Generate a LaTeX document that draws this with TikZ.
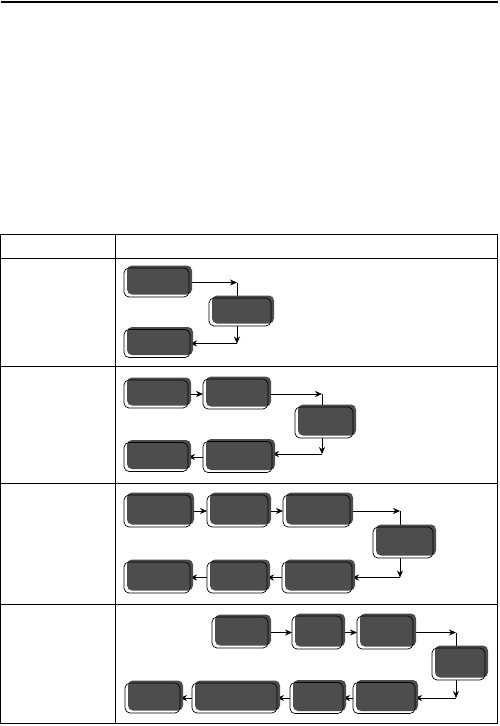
\documentclass[tikz,border=0pt]{standalone}
\usetikzlibrary{shadows,arrows.meta}
\definecolor{boxgray}{RGB}{77,77,77}
\pgfdeclarelayer{bg}
\pgfsetlayers{bg,main}
\begin{document}
\begin{tikzpicture}[x=1pt,y=-1pt,
  box/.style={draw=black, line width=0.7pt, rounded corners=5pt, inner sep=0pt, outer sep=0pt,
    general shadow={fill=white},
    general shadow={fill=boxgray, shadow xshift=3pt, shadow yshift=2.5pt}},
  arr/.style={line width=0.6pt, -{Stealth[length=7pt,width=6pt]}},
  rule/.style={line width=0.8pt}]
\useasboundingbox (0,0) rectangle (499,726);
% top rule
\draw[line width=2pt] (1,2) -- (498,2);
% table
\draw[rule] (0.5,234) rectangle (497,723);
\draw[rule] (0.5,258) -- (497,258);
\draw[rule] (0.5,366) -- (497,366);
\draw[rule] (0.5,483) -- (497,483);
\draw[rule] (0.5,604) -- (497,604);
\draw[rule] (115,234) -- (115,723);

% row 1
\node[box, minimum width=65, minimum height=29] (A1) at (156.5,282.5) {};
\node[box, minimum width=62, minimum height=28] (B1) at (240,312) {};
\node[box, minimum width=66, minimum height=28] (C1) at (157,343.5) {};
\coordinate (t1) at (237,282.5);
\coordinate (b1) at (237,343.5);
% row 2
\node[box, minimum width=64, minimum height=28] (A2) at (156,394) {};
\node[box, minimum width=65, minimum height=30] (B2) at (235.5,394) {};
\node[box, minimum width=58, minimum height=31] (C2) at (324,422.5) {};
\node[box, minimum width=69, minimum height=31] (D2) at (237.5,457) {};
\node[box, minimum width=64, minimum height=29] (E2) at (156,457) {};
\coordinate (t2) at (322,394);
\coordinate (b2) at (322,454);
% row 3
\node[box, minimum width=67, minimum height=32] (A3) at (157.5,511) {};
\node[box, minimum width=61, minimum height=32] (B3) at (237.5,511) {};
\node[box, minimum width=67, minimum height=32] (C3) at (316.5,511) {};
\node[box, minimum width=60, minimum height=31] (R3) at (403,542.5) {};
\node[box, minimum width=70, minimum height=31] (D3) at (317,577.5) {};
\node[box, minimum width=60, minimum height=31] (E3) at (237,577.5) {};
\node[box, minimum width=66, minimum height=31] (F3) at (157,577.5) {};
\coordinate (t3) at (400,511);
\coordinate (b3) at (400,577.5);
% row 4
\node[box, minimum width=56, minimum height=31] (A4) at (240,632.5) {};
\node[box, minimum width=50, minimum height=33] (B4) at (317,632.5) {};
\node[box, minimum width=56, minimum height=33] (C4) at (385,632.5) {};
\node[box, minimum width=53, minimum height=32] (R4) at (458.5,664) {};
\node[box, minimum width=62, minimum height=31] (D4) at (384,698) {};
\node[box, minimum width=53, minimum height=31] (E4) at (316.5,698) {};
\node[box, minimum width=85, minimum height=30] (F4) at (234.5,698) {};
\node[box, minimum width=55, minimum height=30] (G4) at (152.5,698) {};
\coordinate (t4) at (456,632.5);
\coordinate (b4) at (456,698);

\begin{pgfonlayer}{bg}
% row 1
\draw[arr] (A1.east) -- (t1);
\draw[arr] (t1) -- (b1);
\draw[arr] (b1) -- (C1.east);
% row 2
\draw[arr] (A2.east) -- (B2.west);
\draw[arr] (B2.east) -- (t2);
\draw[arr] (t2) -- (b2);
\draw[arr] (b2) -- (b2 -| D2.east);
\draw[arr] (D2.west) -- (E2.east);
% row 3
\draw[arr] (A3.east) -- (B3.west);
\draw[arr] (B3.east) -- (C3.west);
\draw[arr] (C3.east) -- (t3);
\draw[arr] (t3) -- (b3);
\draw[arr] (b3) -- (D3.east);
\draw[arr] (D3.west) -- (E3.east);
\draw[arr] (E3.west) -- (F3.east);
% row 4
\draw[arr] (A4.east) -- (B4.west);
\draw[arr] (B4.east) -- (C4.west);
\draw[arr] (C4.east) -- (t4);
\draw[arr] (t4) -- (b4);
\draw[arr] (b4) -- (D4.east);
\draw[arr] (D4.west) -- (E4.east);
\draw[arr] (E4.west) -- (F4.east);
\draw[arr] (F4.west) -- (G4.east);
\end{pgfonlayer}
\end{tikzpicture}
\end{document}
